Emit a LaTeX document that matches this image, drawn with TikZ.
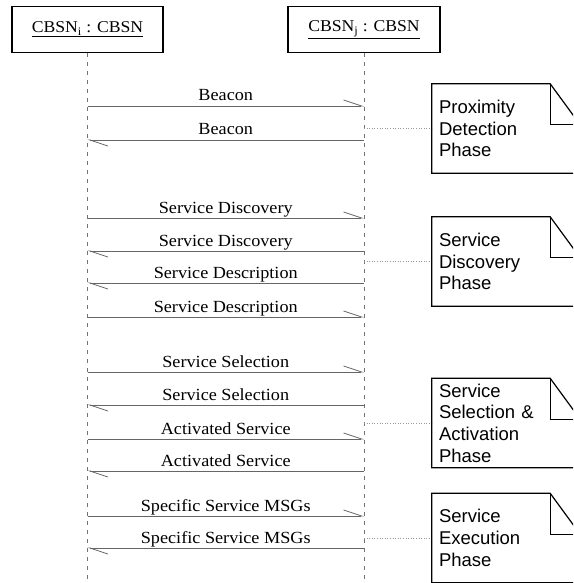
\documentclass[tikz,border=0pt]{standalone}
\usepackage{fontspec}
\setmainfont{Liberation Serif}
\newfontfamily\msgfont[FakeStretch=1.07]{Liberation Serif}
\newfontfamily\notefont{Liberation Sans}
\usetikzlibrary{arrows.meta,calc}

\tikzset{
  lifebox/.style={draw=black, line width=1.2pt, minimum width=151pt, minimum height=46pt,
    inner sep=0pt, font=\msgfont\fontsize{16.5}{19}\selectfont},
  lifeline/.style={draw=black!55, line width=0.7pt, dash pattern=on 4pt off 5pt},
  msg/.style={draw=black!60, line width=0.8pt,
    -{Straight Barb[harpoon, length=18pt, width=12pt, line width=0.8pt]}},
  lbl/.style={anchor=base, yshift=5pt, inner sep=0pt, font=\msgfont\fontsize{17}{20}\selectfont},
  notebox/.style={minimum width=148pt, minimum height=89pt, text width=134pt,
    inner xsep=7pt, inner ysep=0pt, align=left,
    font=\notefont\fontsize{18.5}{21.7}\selectfont},
  noteline/.style={draw=black, line width=1.2pt, line join=miter},
  conn/.style={draw=black!40, line width=0.6pt, dotted},
}

\begin{document}
\begin{tikzpicture}[x=1pt, y=-1pt]
\useasboundingbox (0,0) rectangle (573,583);
\clip (0,0) rectangle (573,583);

% participants
\node[lifebox] (A) at (87.5,29.5) {\underline{CBSN\textsubscript{i} : CBSN}};
\node[lifebox, minimum width=152pt] (B) at (364,29.5) {\underline{CBSN\textsubscript{j} : CBSN}};

% lifelines
\coordinate (Aend) at (A.south |- 0,583);
\coordinate (Bend) at (B.south |- 0,583);
\draw[lifeline] (A.south) -- (Aend);
\draw[lifeline] (B.south) -- (Bend);

% message end points on the lifelines
\foreach \i/\y in {1/106, 2/140, 3/218, 4/251, 5/283, 6/317,
                   7/372, 8/405, 9/439, 10/471, 11/516, 12/548} {
  \coordinate (L\i) at (A.south |- 0,\y);
  \coordinate (R\i) at (B.south |- 0,\y);
}

% messages
\draw[msg] (L1) -- node[lbl] {Beacon} (R1);
\draw[msg] (R2) -- node[lbl] {Beacon} (L2);
\draw[msg] (L3) -- node[lbl] {Service Discovery} (R3);
\draw[msg] (R4) -- node[lbl] {Service Discovery} (L4);
\draw[msg] (R5) -- node[lbl] {Service Description} (L5);
\draw[msg] (L6) -- node[lbl] {Service Description} (R6);
\draw[msg] (L7) -- node[lbl] {Service Selection} (R7);
\draw[msg] (R8) -- node[lbl] {Service Selection} (L8);
\draw[msg] (L9) -- node[lbl] {Activated Service} (R9);
\draw[msg] (R10) -- node[lbl] {Activated Service} (L10);
\draw[msg] (L11) -- node[lbl] {Specific Service MSGs} (R11);
\draw[msg] (R12) -- node[lbl] {Specific Service MSGs} (L12);

% phase notes
\node[notebox] (N1) at (506,128.5) {Proximity\\Detection\\Phase};
\node[notebox] (N2) at (506,261.5) {Service\\Discovery\\Phase};
\node[notebox] (N3) at (506,423) {Service\\Selection \&\\Activation\\Phase};
\node[notebox] (N4) at (506,538) {Service\\Execution\\Phase};

\foreach \n in {N1,N2,N3,N4} {
  \draw[noteline] (\n.north west) -- ($(\n.north east)+(-30,0)$)
    -- ($(\n.north east)+(0,41)$) -- (\n.south east) -- (\n.south west) -- cycle;
  \draw[noteline] ($(\n.north east)+(-30,0)$) -- ($(\n.north east)+(-30,41)$)
    -- ($(\n.north east)+(0,41)$);
}

% note attachments
\coordinate (P1) at (B.south |- N1.west);
\coordinate (P2) at (B.south |- N2.west);
\coordinate (P3) at (B.south |- N3.west);
\coordinate (P4) at (B.south |- N4.west);
\draw[conn] (P1) -- (N1.west);
\draw[conn] (P2) -- (N2.west);
\draw[conn] (P3) -- (N3.west);
\draw[conn] (P4) -- (N4.west);
\end{tikzpicture}
\end{document}
